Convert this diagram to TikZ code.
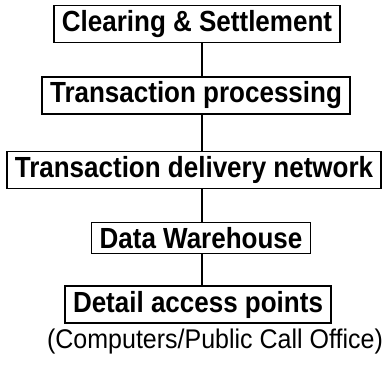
\documentclass[tikz,border=0pt]{standalone}
\usepackage{fontspec}
\usepackage{graphicx}
\setmainfont{Liberation Sans}
\newcommand{\lvltext}[1]{\scalebox{1}[1.12]{#1}}
\begin{document}
\begin{tikzpicture}[x=1pt,y=-1pt,
  level/.style={draw=black,line width=1.4pt,font=\fontsize{26}{30}\selectfont\bfseries,inner xsep=8pt,inner ysep=5pt},
  link/.style={line width=1.3pt}]
\useasboundingbox (0,0) rectangle (385,366);
\node[level] (cs) at (197,24) {\lvltext{Clearing \& Settlement}};
\node[level] (tp) at (196,95.5) {\lvltext{Transaction processing}};
\node[level] (td) at (194,170) {\lvltext{Transaction delivery network}};
\node[level] (dw) at (201,238) {\lvltext{Data Warehouse}};
\node[level] (da) at (198,304.5) {\lvltext{Detail access points}};
\node[font=\fontsize{25}{30}\selectfont,inner sep=0pt] (cap) at (215,342) {\scalebox{1}[1.08]{(Computers/Public Call Office)}};
\draw[link] (cs.south -| 202,0) -- (tp.north -| 202,0);
\draw[link] (tp.south -| 202,0) -- (td.north -| 202,0);
\draw[link] (td.south -| 202,0) -- (dw.north -| 202,0);
\draw[link] (dw.south -| 202,0) -- (da.north -| 202,0);
\end{tikzpicture}
\end{document}
